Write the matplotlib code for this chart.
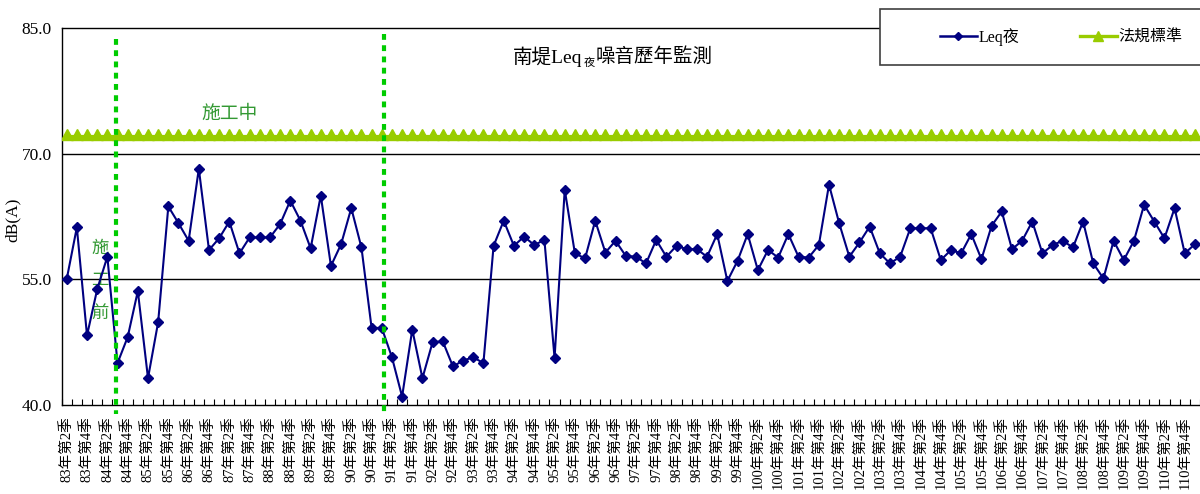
import matplotlib
matplotlib.use('Agg')
import matplotlib.pyplot as plt
from matplotlib.lines import Line2D
from matplotlib.patches import Rectangle
from matplotlib.markers import MarkerStyle
from matplotlib.transforms import Affine2D

plt.rcParams['font.family'] = ['Liberation Serif', 'Noto Sans CJK TC', 'DejaVu Sans']

# ---- data ----
start_year, start_q = 83, 2
n_points = 112
categories = []
y, q = start_year, start_q
for _ in range(n_points):
    categories.append(f"{y}年第{q}季")
    q += 1
    if q > 4:
        q = 1
        y += 1

leq_night = [
    55.0, 61.2, 48.3, 53.8, 57.7, 45.0, 48.1, 53.6, 43.2, 49.9,
    63.7, 61.7, 59.6, 68.2, 58.5, 59.9, 61.9, 58.1, 60.0, 60.0,
    60.0, 61.6, 64.4, 62.0, 58.7, 65.0, 56.6, 59.2, 63.5, 58.8,
    49.2, 49.2, 45.7, 41.0, 49.0, 43.2, 47.5, 47.6, 44.6, 45.3,
    45.7, 45.0, 59.0, 62.0, 59.0, 60.1, 59.1, 59.7, 45.6, 65.7,
    58.1, 57.5, 62.0, 58.2, 59.6, 57.8, 57.7, 56.9, 59.7, 57.7,
    59.0, 58.6, 58.6, 57.7, 60.4, 54.8, 57.2, 60.4, 56.1, 58.5,
    57.6, 60.4, 57.7, 57.6, 59.1, 66.3, 61.7, 57.7, 59.4, 61.3,
    58.1, 56.9, 57.7, 61.1, 61.1, 61.1, 57.3, 58.5, 58.1, 60.4,
    57.4, 61.4, 63.1, 58.6, 59.6, 61.9, 58.1, 59.1, 59.6, 58.8,
    61.9, 56.9, 55.1, 59.6, 57.3, 59.6, 63.9, 61.9, 59.9, 63.5,
    58.1, 59.2,
]
standard_level = 72.0
standard = [standard_level] * n_points

yticks = [40, 55, 70, 85]
phase_lines = [4.9, 31.25]

# ---- figure ----
W, H = 1200, 494
fig = plt.figure(figsize=(W / 100, H / 100), dpi=100)
left_px, right_px, top_px, bottom_px = 61.6, 1200, 28, 405
ax = fig.add_axes([left_px / W, 1 - bottom_px / H,
                   (right_px - left_px) / W, (bottom_px - top_px) / H])

x = list(range(n_points))
tri = MarkerStyle('^', transform=Affine2D().translate(0, 0.22))
ax.plot(x, standard, color='#99CC00', lw=3.0, marker=tri, ms=8,
        mec='#99CC00', mfc='#99CC00', zorder=3)
ax.plot(x, leq_night, color='#000080', lw=1.5, marker='D', ms=5.5,
        mec='#000080', mfc='#000080', zorder=4)

spacing = 10.194
ax.set_xlim(-0.5, -0.5 + (right_px - left_px) / spacing)
ax.set_ylim(40, 85)

for v in (55, 70):
    ax.axhline(v, color='black', lw=1.0, zorder=1)

for s in ('top', 'left', 'bottom'):
    ax.spines[s].set_color('black')
    ax.spines[s].set_linewidth(1.0)
ax.spines['right'].set_visible(False)

ax.set_yticks(yticks)
ax.set_yticklabels([f"{v:.1f}" for v in yticks], fontsize=12.5)
ax.tick_params(axis='y', length=0, pad=7)

major = x[::2]
ax.set_xticks(major)
ax.set_xticklabels([categories[i] for i in major], rotation=90, fontsize=10.5,
                   va='top', ha='center')
ax.set_xticks([i - 0.5 for i in range(n_points + 1)], minor=True)
ax.tick_params(axis='x', which='major', length=0, pad=8)
ax.tick_params(axis='x', which='minor', direction='in', length=4, width=0.8)

ax.set_ylabel('dB(A)', fontsize=12.5)
ax.yaxis.set_label_coords(-0.036, 0.49)

# phase divider lines
tops = [83.7, 84.3]
for xv, tp in zip(phase_lines, tops):
    ax.plot([xv, xv], [tp, 38.9], color='#00CC00', lw=3,
            ls=(0, (1.4, 1.3)), clip_on=False, zorder=5)

ax.text(16.0, 74.8, '施工中', color='#339933', fontsize=13.5,
        ha='center', va='center', family=['Noto Sans CJK TC'])
for ch, yy in zip('施工前', [58.7, 54.9, 50.95]):
    ax.text(3.27, yy, ch, color='#339933', fontsize=12.5,
            ha='center', va='center', family=['Noto Sans CJK TC'])

# title (with subscript 夜)
fy = 1 - 57 / H
t1 = fig.text(0, fy, '南堤Leq', fontsize=14, va='center', ha='left')
t2 = fig.text(0, 1 - 63 / H, '夜', fontsize=8, va='center', ha='left')
t3 = fig.text(0, fy, '噪音歷年監測', fontsize=14, va='center', ha='left')
fig.canvas.draw()
r = fig.canvas.get_renderer()
w1 = t1.get_window_extent(r).width
w2 = t2.get_window_extent(r).width
w3 = t3.get_window_extent(r).width
total = w1 + w2 + w3 + 2
x0 = 613 - total / 2
t1.set_x(x0 / W)
t2.set_x((x0 + w1 + 1) / W)
t3.set_x((x0 + w1 + w2 + 2) / W)

# legend box
fig.add_artist(Rectangle((880 / W, 1 - 65.3 / H), (1215 - 880) / W, 56 / H,
                         transform=fig.transFigure, facecolor='white',
                         edgecolor='#404040', lw=1.2, clip_on=False, zorder=6))
handles = [
    Line2D([], [], color='#000080', lw=1.8, marker='D', ms=4, mfc='#000080', mec='#000080'),
    Line2D([], [], color='#99CC00', lw=2.4, marker='^', ms=7, mfc='#99CC00', mec='#99CC00'),
]
leg = fig.legend(handles, ['Leq夜', '法規標準'], loc='center left',
                 bbox_to_anchor=(940 / W, 1 - 37 / H), frameon=False, ncol=2,
                 handlelength=2.3, handletextpad=0.1, columnspacing=3.8,
                 fontsize=11.5, borderpad=0, borderaxespad=0)
leg.set_zorder(7)

fig.savefig('out.png', dpi=100)
